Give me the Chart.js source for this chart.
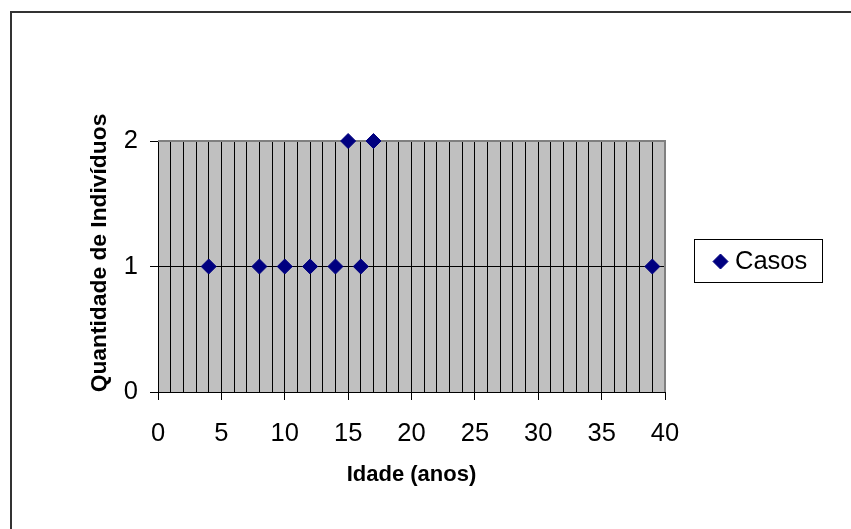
<!DOCTYPE html>
<html>
<head>
<meta charset="utf-8">
<title>Idade dos casos</title>
<script src="https://cdn.jsdelivr.net/npm/chart.js@4/dist/chart.umd.min.js"></script>
<style>
  html, body { margin: 0; padding: 0; background: #ffffff; }
  #wrap { width: 851px; height: 529px; position: relative; }
</style>
</head>
<body>
<div id="wrap"><canvas id="chart" width="851" height="529"></canvas></div>
<script>
// Casos por idade
const seriesName = 'Casos';
const ages = [4, 8, 10, 12, 14, 15, 16, 17, 39];
const counts = [1, 1, 1, 1, 1, 2, 1, 2, 1];
const xRange = [0, 40];
const yRange = [0, 2];
const xLabelStep = 5;
const xTitle = 'Idade (anos)';
const yTitle = 'Quantidade de Indivíduos';

const FONT = '"Liberation Sans", Arial, sans-serif';
const MARKER = '#000080';
const LABEL_SIZE = 25.5;

// Plot background, plot frame, outer frame, y title and legend box
const decor = {
  id: 'decor',
  beforeDraw(chart) {
    const { ctx, chartArea: a } = chart;
    ctx.save();
    ctx.fillStyle = '#c0c0c0';
    ctx.fillRect(a.left, a.top, a.right - a.left, a.bottom - a.top);
    // outer frame
    ctx.strokeStyle = '#333333';
    ctx.lineWidth = 2;
    ctx.strokeRect(11, 12, chart.width + 20, chart.height + 20);
    ctx.restore();
  },
  beforeDatasetsDraw(chart) {
    const { ctx, chartArea: a } = chart;
    ctx.save();
    ctx.strokeStyle = '#808080';
    ctx.lineWidth = 2;
    ctx.beginPath();
    ctx.moveTo(a.left, a.top);
    ctx.lineTo(a.right, a.top);
    ctx.lineTo(a.right, a.bottom);
    ctx.stroke();
    ctx.restore();
  },
  afterDraw(chart) {
    const { ctx } = chart;
    const ds = chart.data.datasets[0];
    ctx.save();
    // y axis title, centred on the whole chart height
    ctx.translate(100, 253);
    ctx.rotate(-Math.PI / 2);
    ctx.fillStyle = '#000000';
    ctx.font = 'bold 22.8px ' + FONT;
    ctx.textAlign = 'center';
    ctx.textBaseline = 'middle';
    ctx.fillText(yTitle, 0, 0);
    ctx.restore();

    const box = { x: 694.5, y: 239.5, w: 128, h: 43 };
    ctx.save();
    ctx.fillStyle = '#ffffff';
    ctx.fillRect(box.x, box.y, box.w, box.h);
    ctx.strokeStyle = '#000000';
    ctx.lineWidth = 1;
    ctx.strokeRect(box.x, box.y, box.w, box.h);
    const cx = 720.5, cy = 261.5, r = 7.5;
    ctx.fillStyle = ds.backgroundColor;
    ctx.strokeStyle = ds.borderColor;
    ctx.beginPath();
    ctx.moveTo(cx, cy - r); ctx.lineTo(cx + r, cy); ctx.lineTo(cx, cy + r); ctx.lineTo(cx - r, cy); ctx.closePath();
    ctx.fill(); ctx.stroke();
    ctx.fillStyle = '#000000';
    ctx.font = LABEL_SIZE + 'px ' + FONT;
    ctx.textAlign = 'left';
    ctx.textBaseline = 'middle';
    ctx.fillText(ds.label, 735, 261.5);
    ctx.restore();
  }
};

new Chart(document.getElementById('chart'), {
  type: 'scatter',
  data: {
    datasets: [{
      label: seriesName,
      data: ages.map((a, i) => ({ x: a, y: counts[i] })),
      pointStyle: 'rectRot',
      pointRadius: 7.5,
      pointHoverRadius: 7.5,
      borderWidth: 1,
      backgroundColor: MARKER,
      borderColor: MARKER,
      clip: false
    }]
  },
  options: {
    responsive: false,
    animation: false,
    events: [],
    layout: { padding: { left: 80, top: 141, right: 186, bottom: 40 } },
    plugins: { legend: { display: false }, tooltip: { enabled: false } },
    scales: {
      x: {
        type: 'linear',
        min: xRange[0], max: xRange[1],
        afterFit: s => { s.height = 97; },
        border: { color: '#000000', width: 1 },
        grid: {
          color: '#000000',
          lineWidth: 1,
          tickLength: 8,
          tickColor: c => (c.tick && c.tick.value % xLabelStep === 0) ? '#000000' : 'rgba(0,0,0,0)'
        },
        ticks: {
          stepSize: 1,
          autoSkip: false,
          maxRotation: 0,
          padding: 19,
          color: '#000000',
          font: { family: FONT, size: LABEL_SIZE },
          callback: v => (v % xLabelStep === 0 ? String(v) : '')
        },
        title: {
          display: true,
          text: xTitle,
          color: '#000000',
          font: { family: FONT, size: 22, weight: 'bold' },
          padding: { top: 0, bottom: 1 }
        }
      },
      y: {
        type: 'linear',
        min: yRange[0], max: yRange[1],
        afterFit: s => { s.width = 78; },
        border: { color: '#000000', width: 1 },
        grid: {
          color: c => (c.tick && c.tick.value === yRange[1]) ? 'rgba(0,0,0,0)' : '#000000',
          lineWidth: 1,
          tickLength: 8,
          tickColor: '#000000'
        },
        ticks: {
          stepSize: 1,
          padding: 12,
          color: '#000000',
          font: { family: FONT, size: LABEL_SIZE }
        },
        title: { display: false }
      }
    }
  },
  plugins: [decor]
});
</script>
</body>
</html>
